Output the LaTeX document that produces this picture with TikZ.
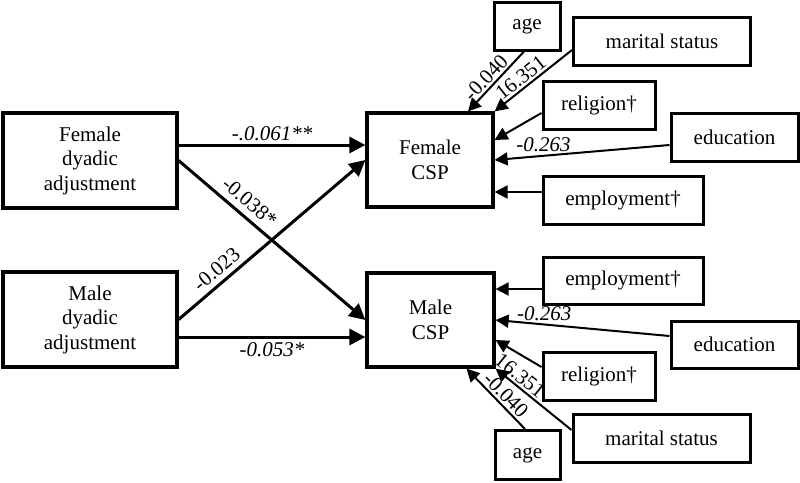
\documentclass[tikz,border=0pt]{standalone}
\usepackage{fontspec}
\setmainfont{Liberation Serif}
\usetikzlibrary{arrows.meta,calc}
\begin{document}
\begin{tikzpicture}[x=1pt,y=-1pt,
  box/.style={draw,line width=3.2pt,align=center,inner sep=0pt,font=\fontsize{21}{24.5}\selectfont},
  sbox/.style={draw,line width=3pt,inner sep=0pt,font=\fontsize{21}{24.5}\selectfont},
  main/.style={line width=3pt,-{Triangle[length=16pt,width=16pt]}},
  side/.style={line width=2pt,-{Triangle[length=13pt,width=13pt]}},
  lab/.style={font=\fontsize{21}{24}\selectfont\itshape,inner sep=1pt},
  rlab/.style={font=\fontsize{21}{24}\selectfont,inner sep=1pt}
]
\useasboundingbox (0,0) rectangle (800,482);
% main boxes
\node[box,minimum width=174pt,minimum height=95pt] (fda) at (90,160.5) {Female\\dyadic\\adjustment};
\node[box,minimum width=174pt,minimum height=95pt] (mda) at (90,319.5) {Male\\dyadic\\adjustment};
\node[box,minimum width=126pt,minimum height=94pt] (fcsp) at (430,160) {Female\\CSP};
\node[box,minimum width=127pt,minimum height=94pt] (mcsp) at (430.5,320) {Male\\CSP};
% top covariates
\node[sbox,minimum width=66pt,minimum height=48pt] (age1) at (527,26) {age};
\node[sbox,minimum width=177pt,minimum height=48pt] (mar1) at (662,41) {marital status};
\node[sbox,minimum width=112pt,minimum height=48pt] (rel1) at (599,105) {religion†};
\node[sbox,minimum width=127pt,minimum height=48pt] (edu1) at (734.5,137) {education};
\node[sbox,minimum width=160pt,minimum height=48pt] (emp1) at (623,200) {employment†};
% bottom covariates
\node[sbox,minimum width=160pt,minimum height=47pt] (emp2) at (623,280.5) {employment†};
\node[sbox,minimum width=127pt,minimum height=47pt] (edu2) at (734.5,344.5) {education};
\node[sbox,minimum width=112pt,minimum height=48pt] (rel2) at (599,376) {religion†};
\node[sbox,minimum width=177pt,minimum height=48pt] (mar2) at (661.5,438.5) {marital status};
\node[sbox,minimum width=65pt,minimum height=49pt] (age2) at (527.5,455) {age};
% main paths
\draw[main] ([yshift=15.5pt]fda.east) -- ([yshift=15.5pt]fda.east -| fcsp.west)
  node[lab,midway,above=2pt] {-.0.061**};
\draw[main] (fda.east) -- (mcsp.west)
  node[rlab,pos=0.33,sloped,above=5pt] {-0.038*};
\draw[main] (mda.east) -- (fcsp.west)
  node[rlab,pos=0.25,sloped,above=4pt] {-0.023};
\draw[main] ([yshift=-17.5pt]mda.east) -- ([yshift=-17.5pt]mda.east -| mcsp.west)
  node[lab,midway,below=3pt] {-0.053*};
% top covariate arrows
\draw[side] ([xshift=-3pt]age1.south) -- ([xshift=38pt]fcsp.north)
  node[rlab,pos=0.55,sloped,above=1pt] {-0.040};
\draw[side] ([yshift=-9pt]mar1.west) -- (fcsp.north east)
  node[rlab,pos=0.58,sloped,above=1pt] {16.351};
\draw[side] ([yshift=-8pt]rel1.west) -- ([yshift=20pt]fcsp.east);
\draw[side] ([yshift=-8pt]edu1.west) -- (fcsp.east)
  node[lab,pos=0.72,above=2pt] {-0.263};
\draw[side] ([yshift=8pt]emp1.west) -- ([yshift=8pt]emp1.west -| fcsp.east);
% bottom covariate arrows
\draw[side] ([yshift=-8.5pt]emp2.west) -- ([yshift=-8.5pt]emp2.west -| mcsp.east);
\draw[side] ([yshift=8.5pt]edu2.west) -- (mcsp.east)
  node[lab,pos=0.72,above=2pt] {-0.263};
\draw[side] ([yshift=9pt]rel2.west) -- ([yshift=-20pt]mcsp.east);
\draw[side] ([yshift=8.5pt]mar2.west) -- (mcsp.south east)
  node[rlab,pos=0.76,sloped,above=1pt] {16.351};
\draw[side] ([xshift=-2.5pt]age2.north) -- ([xshift=36pt]mcsp.south)
  node[rlab,pos=0.45,sloped,above=1pt] {-0.040};
\end{tikzpicture}
\end{document}
